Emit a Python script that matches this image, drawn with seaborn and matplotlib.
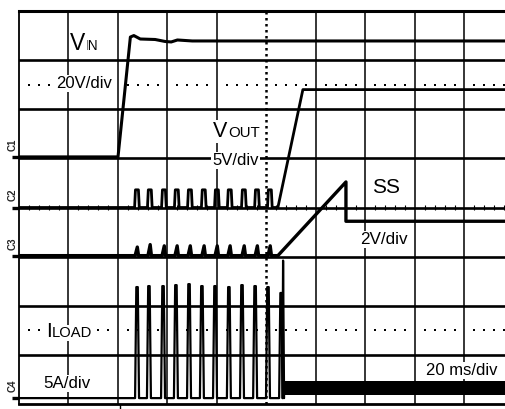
import numpy as np
import seaborn as sns
import matplotlib.pyplot as plt

# scope settings: 20 ms/div, channel scale (unit/div) and ground offset (div from centre)
ms_per_div = 20
vin_scale, vin_gnd = 20, 1.03
vout_scale, vout_gnd = 5, 0.0
ss_scale, ss_gnd = 2, -0.98
iload_scale, iload_gnd = 5, -3.88

# VIN (V)
vin_t = [0, 40.0, 45.0, 46.4, 49.0, 55.0, 59.0, 61.5, 64.0, 70.0, 200]
vin_v = [0, 0, 48.8, 49.4, 48.0, 47.8, 47.0, 46.8, 47.6, 47.2, 47.2]

# hiccup retries (ms) seen on VOUT and SS
hiccup_t = [46.9, 52.1, 57.8, 63.0, 68.3, 73.9, 79.2, 84.4, 90.1, 95.4, 100.6]
hiccup_vout = [1.8, 1.8, 1.8, 1.8, 1.8, 1.8, 1.8, 1.8, 1.8, 1.8, 1.8]
hiccup_ss = [0.35, 0.45, 0.4, 0.4, 0.4, 0.4, 0.4, 0.4, 0.4, 0.4, 0.4]

# final start-up
vout_ramp_t = [104.6, 114.7, 200]
vout_ramp_v = [0, 12.0, 12.0]
ss_ramp_t = [104.6, 132.1, 132.1, 200]
ss_ramp_v = [0, 3.0, 1.4, 1.4]

# load current pulses (ms, A)
iload_t = [47.7, 52.5, 58.2, 63.4, 68.7, 73.9, 79.2, 84.8, 90.1, 95.4, 100.6, 105.9]
iload_pk = [11.3, 11.4, 11.4, 11.5, 11.6, 11.4, 11.4, 11.3, 11.5, 11.4, 11.3, 10.7]
iload_tail_t = [106.4, 106.7, 107.1]
iload_tail_a = [0, 14.0, 0]
band_t = [107.3, 200]
band_lo = [0.3, 0.3]
band_hi = [1.75, 1.75]


def pulse_train(times, amps, lead, rise, top, fall, end):
    t, v = [0.0], [0.0]
    for t0, a in zip(times, amps):
        s = t0 - lead
        t += [s, s + rise, s + rise + top, s + rise + top + fall]
        v += [0, a, a, 0]
    t.append(end)
    v.append(0)
    return t, v


sns.set_theme(style="white")
plt.rcParams["font.family"] = ["Liberation Sans", "DejaVu Sans"]

W, H = 506, 409
fig = plt.figure(figsize=(W / 100, H / 100), dpi=100)
fig.patch.set_facecolor("white")
ax = fig.add_axes([19 / W, 1 - 404 / H, (514 - 19) / W, (404 - 11) / H])
ax.set_facecolor("white")
ax.set_xlim(0, 10 * ms_per_div)
ax.set_ylim(-4, 4)
ax.set_xticks([])
ax.set_yticks([])

# graticule
for x in range(ms_per_div, 10 * ms_per_div, ms_per_div):
    if x != 5 * ms_per_div:
        ax.axvline(x, color="black", lw=1.1, zorder=1)
ax.axvline(5 * ms_per_div, color="black", lw=1.8, dashes=(1.0, 1.4), zorder=1)
for y in range(-3, 4):
    ax.axhline(y, color="black", lw=1.9, zorder=1)
minor_x = [x for x in np.arange(4, 200, 4) if x % 20 != 0]
ax.vlines(minor_x, -0.06, 0.06, color="black", lw=0.8, zorder=1)
for yd in (2.5, -2.5):
    ax.plot(minor_x, [yd] * len(minor_x), ls="none", marker="s", ms=1.5,
            mew=0, color="black", zorder=1)
for side in ("left", "top", "bottom"):
    ax.spines[side].set_color("black")
ax.spines["top"].set_linewidth(2.2)
ax.spines["bottom"].set_linewidth(2.0)
ax.spines["left"].set_linewidth(1.3)
ax.spines["right"].set_visible(False)

# traces
def draw(t, v, scale, gnd, lw=2.0):
    y = gnd + np.asarray(v, dtype=float) / scale
    sns.lineplot(x=np.asarray(t, dtype=float), y=y, ax=ax, color="black",
                 linewidth=lw, estimator=None, sort=False, zorder=3)

draw(vin_t, vin_v, vin_scale, vin_gnd, 2.2)

t2, v2 = pulse_train(hiccup_t, hiccup_vout, 0.2, 0.35, 1.2, 0.35, vout_ramp_t[0])
draw(t2 + vout_ramp_t, v2 + vout_ramp_v, vout_scale, vout_gnd, 2.0)

t3, v3 = pulse_train(hiccup_t, hiccup_ss, 0.0, 0.9, 0.0, 0.5, ss_ramp_t[0])
draw(t3 + ss_ramp_t, v3 + ss_ramp_v, ss_scale, ss_gnd, 2.4)

t4, v4 = pulse_train(iload_t, iload_pk, 0.8, 0.5, 0.6, 0.5, iload_tail_t[0])
draw(t4 + iload_tail_t, v4 + iload_tail_a, iload_scale, iload_gnd, 1.6)
ax.fill_between(band_t, iload_gnd + np.array(band_lo) / iload_scale,
                iload_gnd + np.array(band_hi) / iload_scale,
                color="black", lw=0, zorder=3)

# channel markers on the left edge and trigger mark
for name, gnd in (("C1", vin_gnd), ("C2", vout_gnd), ("C3", ss_gnd), ("C4", iload_gnd)):
    ax.plot([-2.8, -0.2], [gnd, gnd], color="black", lw=2.4, clip_on=False,
            solid_capstyle="butt")
    ax.text(-2.5, gnd + 0.25, name, rotation=90, ha="center", va="center",
            fontsize=7, fontweight="bold", clip_on=False)
ax.plot([41, 41], [-4, -4.1], color="black", lw=1.0, clip_on=False)

# labels (image pixel positions, baseline-left)
def label(x, y, s, size):
    fig.text(x / W, 1 - y / H, s, fontsize=size, ha="left", va="baseline",
             color="black", zorder=5,
             bbox=dict(facecolor="white", edgecolor="none", pad=1.0))

label(85, 50, "IN", 9.8)
label(70, 50, "V", 16.5)
label(56, 88, "20V/div", 12)
label(228, 137, "OUT", 10.8)
label(213, 137, "V", 15.5)
label(212, 165, "5V/div", 12)
label(372, 193, "SS", 15)
label(360, 244, "2V/div", 12.3)
label(52, 337, "LOAD", 10.6)
label(46, 337, "I", 15)
label(43, 388, "5A/div", 12.2)
label(426, 375, "20 ms/div", 12)

fig.savefig("out.png", dpi=100, facecolor="white")
